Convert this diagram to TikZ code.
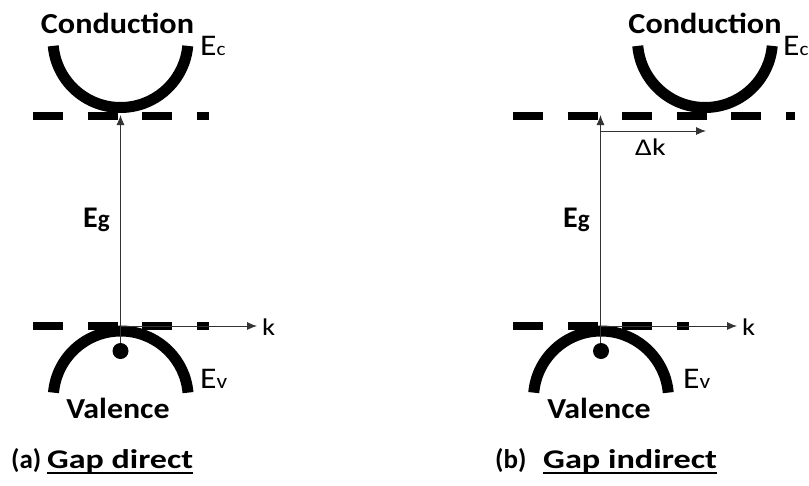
\documentclass[tikz,border=0pt]{standalone}
\usepackage{graphicx}
\usepackage{fontspec}
\setmainfont{Carlito}
\usetikzlibrary{arrows.meta,calc}
\newcommand{\hstretch}[2]{\scalebox{#1}[1]{#2}}
\begin{document}
\begin{tikzpicture}[x=1pt,y=-1pt,
  band/.style={line width=11pt, line cap=butt},
  level/.style={line width=8pt, line cap=butt, dash pattern=on 30pt off 24.5pt},
  thinline/.style={line width=0.9pt, black!80},
  arr/.style={thinline, -{Latex[length=10pt,width=8pt]}},
  lbl/.style={inner sep=0pt, anchor=base west},
  title/.style={inner sep=0pt, anchor=base, font=\bfseries\fontsize{29}{29}\selectfont},
  energy/.style={lbl, font=\fontsize{30}{30}\selectfont},
  klabel/.style={lbl, font=\fontsize{24}{24}\selectfont},
  caption/.style={lbl, font=\bfseries\fontsize{27}{27}\selectfont},
  uline/.style={line width=2pt},
  hole/.style={circle, fill=black, minimum size=16pt, inner sep=0pt}]
\useasboundingbox (0,0) rectangle (809,485);

% ---------- (a) direct gap ----------
\draw[band] (120.5,40) ++(175:67.5) arc[start angle=175, end angle=5, radius=67.5];
\draw[band] (120.75,398.5) ++(185:67.5) arc[start angle=185, end angle=355, radius=67.5];
\draw[level] (33,116) -- (209,116);
\draw[level] (33,326) -- (209,326);
\node[title] (condA) at (117.5,33) {\hstretch{1.11}{Conduction}};
\node[title] (valA) at (118,418) {\hstretch{1.10}{Valence}};
\node[energy] (ecA) at (200,55) {\hstretch{1.12}{E{\fontsize{19}{19}\selectfont c}}};
\node[energy] (evA) at (200,388) {\hstretch{1.12}{E{\fontsize{21}{21}\selectfont v}}};
\node[energy, font=\bfseries\fontsize{30}{30}\selectfont] (egA) at (83,227) {E{\fontsize{25}{25}\selectfont g}};
\node[hole] (holeA) at (120.5,351) {};
\coordinate (cbA) at (120.5,115);
\draw[arr] (holeA) -- (cbA);
\coordinate (oA) at (120.5,326);
\coordinate (kA) at (257,326);
\draw[arr] (oA) -- (kA);
\node[klabel] (klA) at (262,335) {\hstretch{1.2}{k}};
\node[caption] (capA) at (11,468) {(a)};
\node[caption] (capA2) at (47,468) {\hstretch{1.26}{Gap direct}};
\draw[uline] ($(capA2.south west)+(0,0.5)$) -- ($(capA2.south east)+(0,0.5)$);

% ---------- (b) indirect gap ----------
\draw[band] (705,40) ++(175:67.5) arc[start angle=175, end angle=5, radius=67.5];
\draw[band] (601,398.5) ++(185:67.5) arc[start angle=185, end angle=355, radius=67.5];
\draw[level] (513,116) -- (795,116);
\draw[level] (513,326) -- (689,326);
\node[title] (condB) at (705,33) {\hstretch{1.11}{Conduction}};
\node[title] (valB) at (599,418) {\hstretch{1.10}{Valence}};
\node[energy] (ecB) at (783,55) {\hstretch{1.12}{E{\fontsize{19}{19}\selectfont c}}};
\node[energy] (evB) at (683,388) {\hstretch{1.12}{E{\fontsize{21}{21}\selectfont v}}};
\node[energy, font=\bfseries\fontsize{30}{30}\selectfont] (egB) at (563,227) {E{\fontsize{25}{25}\selectfont g}};
\node[hole] (holeB) at (601,351) {};
\coordinate (cbB) at (600.5,115);
\draw[arr] (holeB.north -| cbB) -- (cbB);
\coordinate (dkS) at (600.5,131);
\coordinate (dkE) at (706,131);
\draw[arr] (dkS) -- (dkE);
\node[klabel] (dk) at (635,155) {\hstretch{1.25}{Δk}};
\coordinate (oB) at (600.5,326);
\coordinate (kB) at (737,326);
\draw[arr] (oB) -- (kB);
\node[klabel] (klB) at (742,335) {\hstretch{1.2}{k}};
\node[caption] (capB) at (495,468) {(b)};
\node[caption] (capB2) at (543,468) {\hstretch{1.27}{Gap indirect}};
\draw[uline] ($(capB2.south west)+(0,0.5)$) -- ($(capB2.south east)+(0,0.5)$);
\end{tikzpicture}
\end{document}
